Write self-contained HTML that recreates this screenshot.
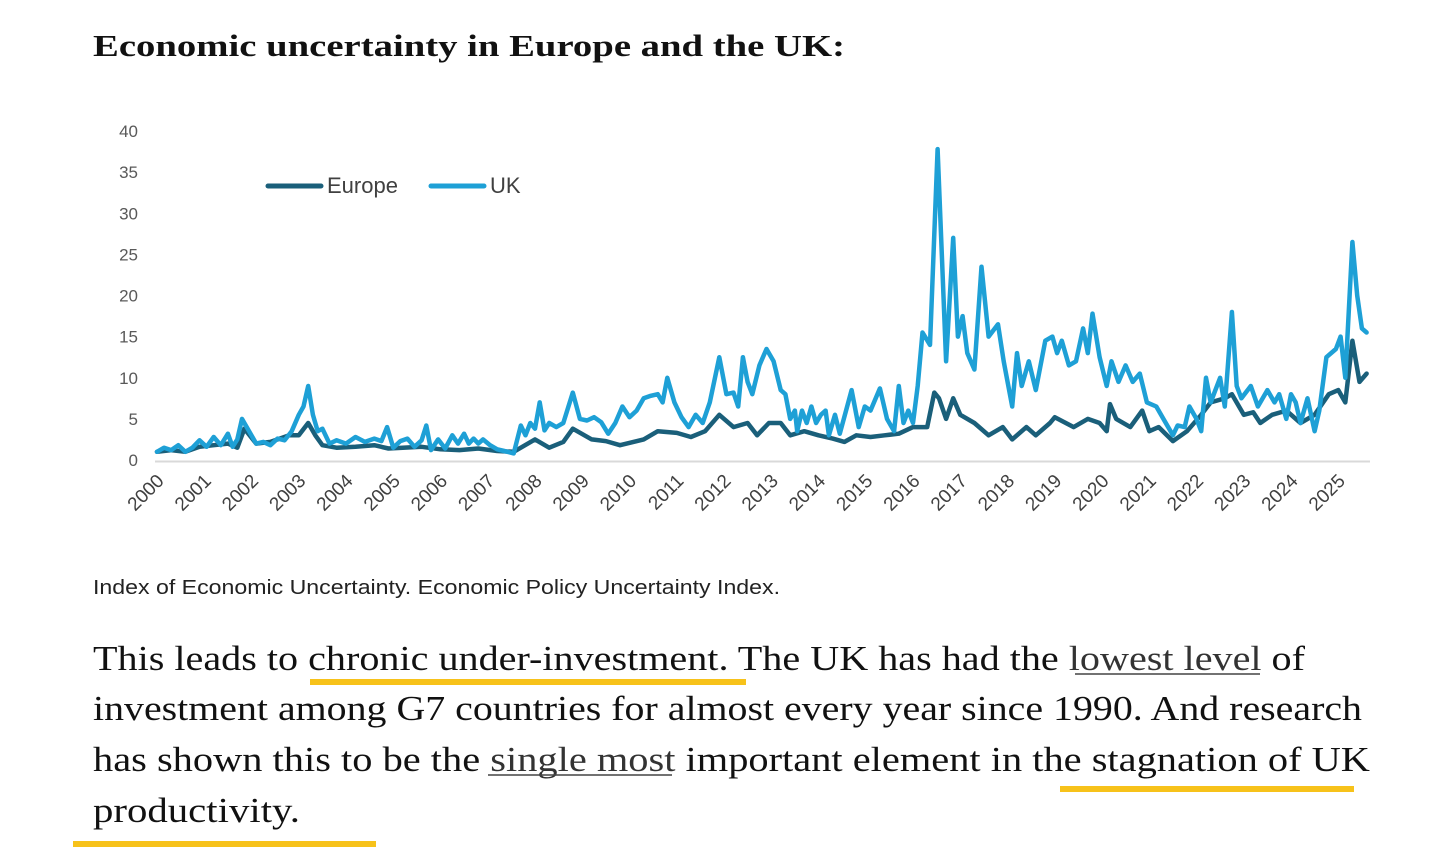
<!DOCTYPE html>
<html><head><meta charset="utf-8"><style>
html,body{margin:0;padding:0;background:#fff;}
svg{display:block;}
</style></head><body>
<svg id="page" width="1456" height="859" viewBox="0 0 1456 859">
<text x="93" y="56" font-family="Liberation Serif, serif" font-weight="bold" font-size="31" fill="#111" textLength="752" lengthAdjust="spacingAndGlyphs">Economic uncertainty in Europe and the UK:</text>
<g id="chart"></g>
<text x="93" y="594" font-family="Liberation Sans, sans-serif" font-size="20" fill="#222" textLength="687" lengthAdjust="spacingAndGlyphs">Index of Economic Uncertainty. Economic Policy Uncertainty Index.</text>
<rect x="310" y="679" width="436" height="6" fill="#f7c21a"/>
<rect x="1060" y="786" width="294" height="6" fill="#f7c21a"/>
<rect x="73" y="841" width="303" height="6" fill="#f7c21a"/>
<g font-family="Liberation Serif, serif" font-size="35" fill="#111">
<text x="93" y="670" textLength="1212" lengthAdjust="spacingAndGlyphs">This leads to chronic under-investment. The UK has had the <tspan fill="#333">lowest level</tspan> of</text>
<text x="93" y="720" textLength="1269" lengthAdjust="spacingAndGlyphs">investment among G7 countries for almost every year since 1990. And research</text>
<text x="93" y="771" textLength="1277" lengthAdjust="spacingAndGlyphs">has shown this to be the <tspan fill="#333">single most</tspan> important element in the stagnation of UK</text>
<text x="93" y="822" textLength="207" lengthAdjust="spacingAndGlyphs">productivity.</text>
</g>
<line x1="1075" y1="674" x2="1260" y2="674" stroke="#444" stroke-width="1.5"/>
<line x1="488" y1="775" x2="672" y2="775" stroke="#444" stroke-width="1.5"/>
</svg>
<script>
const yTicks = [0,5,10,15,20,25,30,35,40];
const xYears = [2000,2001,2002,2003,2004,2005,2006,2007,2008,2009,2010,2011,2012,2013,2014,2015,2016,2017,2018,2019,2020,2021,2022,2023,2024,2025];
const ukTimes = [
2000.0,2000.15,2000.3,2000.45,2000.6,2000.75,2000.9,2001.05,2001.2,2001.35,
2001.5,2001.6,2001.7,2001.8,2001.95,2002.1,2002.25,2002.4,2002.55,2002.7,
2002.85,2003.0,2003.1,2003.2,2003.3,2003.4,2003.5,2003.65,2003.8,2004.0,
2004.2,2004.4,2004.6,2004.75,2004.87,2005.0,2005.15,2005.3,2005.45,2005.6,
2005.7,2005.8,2005.95,2006.1,2006.25,2006.37,2006.5,2006.6,2006.7,2006.8,
2006.9,2007.05,2007.2,2007.35,2007.55,2007.7,2007.8,2007.9,2008.0,2008.1,
2008.2,2008.3,2008.45,2008.6,2008.8,2008.95,2009.1,2009.25,2009.4,2009.55,
2009.7,2009.85,2010.0,2010.15,2010.3,2010.45,2010.6,2010.7,2010.8,2010.95,
2011.1,2011.25,2011.4,2011.55,2011.7,2011.9,2012.05,2012.2,2012.3,2012.4,
2012.5,2012.6,2012.75,2012.9,2013.05,2013.2,2013.3,2013.4,2013.5,2013.55,
2013.65,2013.75,2013.85,2013.95,2014.05,2014.15,2014.22,2014.35,2014.45,2014.7,
2014.85,2014.98,2015.1,2015.3,2015.45,2015.6,2015.7,2015.8,2015.9,2016.0,
2016.1,2016.2,2016.36,2016.52,2016.7,2016.85,2016.95,2017.05,2017.15,2017.3,
2017.45,2017.6,2017.8,2017.92,2018.1,2018.2,2018.3,2018.45,2018.6,2018.8,
2018.95,2019.05,2019.15,2019.3,2019.45,2019.6,2019.7,2019.8,2019.95,2020.1,
2020.2,2020.35,2020.5,2020.65,2020.8,2020.95,2021.15,2021.3,2021.5,2021.6,
2021.75,2021.85,2022.0,2022.1,2022.2,2022.3,2022.4,2022.5,2022.6,2022.75,
2022.85,2022.95,2023.15,2023.3,2023.5,2023.65,2023.75,2023.9,2024.0,2024.1,
2024.2,2024.35,2024.5,2024.6,2024.75,2024.95,2025.05,2025.15,2025.3,2025.4,
2025.5,2025.6];
const ukValues = [
1.0,1.5,1.2,1.8,1.0,1.5,2.4,1.6,2.8,1.8,
3.2,1.6,2.5,5.0,3.5,2.0,2.2,1.8,2.6,2.4,
3.5,5.5,6.5,9.0,5.5,3.5,3.8,2.0,2.4,2.0,
2.8,2.2,2.6,2.3,4.0,1.5,2.3,2.6,1.6,2.4,
4.2,1.2,2.5,1.4,3.0,2.0,3.2,2.0,2.6,2.0,
2.5,1.8,1.3,1.1,0.8,4.2,3.0,4.5,3.8,7.0,
3.6,4.5,4.0,4.5,8.2,5.0,4.8,5.2,4.6,3.2,
4.5,6.5,5.2,6.0,7.5,7.8,8.0,7.0,10.0,7.0,
5.2,4.0,5.5,4.5,7.0,12.5,8.0,8.2,6.5,12.5,
9.5,8.0,11.5,13.5,12.0,8.5,8.0,5.0,6.0,3.5,
6.0,4.5,6.5,4.5,5.5,6.0,3.0,5.5,3.2,8.5,
4.0,6.5,6.0,8.7,5.0,3.5,9.0,4.5,6.0,4.5,
9.0,15.5,14.0,37.8,12.0,27.0,15.0,17.5,13.0,11.0,
23.5,15.0,16.5,12.0,6.5,13.0,9.0,12.0,8.5,14.5,
15.0,13.0,14.5,11.5,12.0,16.0,13.0,17.8,12.5,9.0,
12.0,9.5,11.5,9.5,10.5,7.0,6.5,5.0,3.0,4.2,
4.0,6.5,5.0,3.5,10.0,7.0,8.5,10.0,6.5,18.0,
9.0,7.5,9.0,6.5,8.5,7.0,8.0,5.0,8.0,7.0,
4.5,7.5,3.5,6.0,12.5,13.5,15.0,10.0,26.5,20.0,
16.0,15.5];
const euTimes = [2000.0,2000.3,2000.6,2000.9,2001.2,2001.5,2001.7,2001.85,2002.1,2002.4,2002.8,2003.0,2003.2,2003.35,2003.5,2003.8,2004.2,2004.6,2004.9,2005.2,2005.6,2006.0,2006.4,2006.8,2007.2,2007.55,2007.7,2008.0,2008.3,2008.6,2008.8,2009.2,2009.5,2009.8,2010.3,2010.6,2011.0,2011.3,2011.6,2011.9,2012.2,2012.5,2012.7,2012.95,2013.2,2013.4,2013.7,2014.0,2014.3,2014.55,2014.8,2015.1,2015.4,2015.7,2016.0,2016.3,2016.45,2016.55,2016.7,2016.85,2017.0,2017.3,2017.6,2017.9,2018.1,2018.4,2018.6,2018.9,2019.0,2019.4,2019.7,2019.95,2020.1,2020.17,2020.3,2020.6,2020.85,2021.0,2021.2,2021.5,2021.8,2022.1,2022.3,2022.6,2022.75,2023.0,2023.2,2023.35,2023.6,2023.9,2024.2,2024.5,2024.8,2025.0,2025.15,2025.3,2025.45,2025.6];
const euValues = [1.0,1.2,1.0,1.6,1.8,2.0,1.5,3.8,2.0,2.2,3.0,3.0,4.5,3.0,1.8,1.5,1.6,1.8,1.4,1.5,1.6,1.3,1.2,1.4,1.1,1.0,1.5,2.5,1.5,2.2,3.8,2.5,2.3,1.8,2.5,3.5,3.3,2.8,3.5,5.5,4.0,4.5,3.0,4.5,4.5,3.0,3.5,3.0,2.6,2.2,3.0,2.8,3.0,3.2,4.0,4.0,8.2,7.5,5.0,7.5,5.5,4.5,3.0,4.0,2.5,4.0,3.0,4.5,5.2,4.0,5.0,4.5,3.5,6.8,5.0,4.0,6.0,3.5,4.0,2.3,3.5,5.5,7.0,7.5,8.0,5.5,5.8,4.5,5.5,6.0,4.5,5.5,8.0,8.5,7.0,14.5,9.5,10.5];

const NS = 'http://www.w3.org/2000/svg';
const g = document.getElementById('chart');
const X0 = 157, PXY = 47.25, Y0 = 460, PXV = 8.225;
function xScale(t){ return X0 + (t - 2000) * PXY; }
function yScale(v){ return Y0 - v * PXV; }
function mk(tag, attrs){ const e = document.createElementNS(NS, tag); for (const k in attrs) e.setAttribute(k, attrs[k]); g.appendChild(e); return e; }

yTicks.forEach(v => {
  const t = mk('text', {x: 138, y: yScale(v) + 6, 'text-anchor': 'end', 'font-family': 'Liberation Sans, sans-serif', 'font-size': 17, fill: '#595959'});
  
  
  t.textContent = v;
});
const axis = mk('line', {x1: 155, y1: 461.5, x2: 1370, y2: 461.5, stroke: '#d9d9d9', 'stroke-width': 2});


xYears.forEach(yr => {
  const x = xScale(yr) + 8, y = 482;
  const t = mk('text', {x: x, y: y, 'text-anchor': 'end', transform: 'rotate(-45 ' + x + ' ' + y + ')', 'font-family': 'Liberation Sans, sans-serif', 'font-size': 19, fill: '#404040'});
  
  
  t.textContent = yr;
});
function series(times, vals, color, name){
  const d = times.map((t, i) => (i ? 'L' : 'M') + xScale(t).toFixed(1) + ' ' + yScale(vals[i]).toFixed(1)).join(' ');
  const p = mk('path', {d: d, fill: 'none', stroke: color, 'stroke-width': 4.5, 'stroke-linejoin': 'round', 'stroke-linecap': 'round'});
  
  
}
series(euTimes, euValues, '#1a5f7a', 'europe-series-line');
series(ukTimes, ukValues, '#1ea0d6', 'uk-series-line');

const l1 = mk('line', {x1: 268, y1: 186, x2: 321, y2: 186, stroke: '#1a5f7a', 'stroke-width': 5, 'stroke-linecap': 'round'});


const t1 = mk('text', {x: 327, y: 193, 'font-family': 'Liberation Sans, sans-serif', 'font-size': 22, fill: '#404040'});


t1.textContent = 'Europe';
const l2 = mk('line', {x1: 431, y1: 186, x2: 484, y2: 186, stroke: '#1ea0d6', 'stroke-width': 5, 'stroke-linecap': 'round'});


const t2 = mk('text', {x: 490, y: 193, 'font-family': 'Liberation Sans, sans-serif', 'font-size': 22, fill: '#404040'});


t2.textContent = 'UK';
</script>
</body></html>
